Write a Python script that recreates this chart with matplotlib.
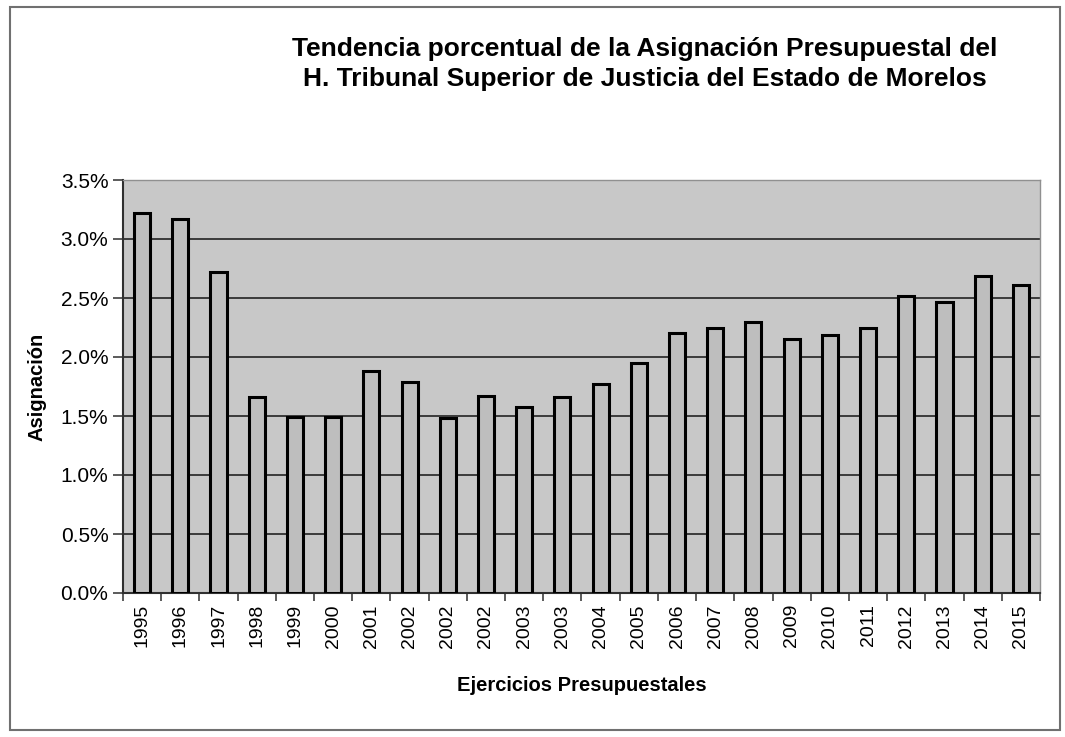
import matplotlib
matplotlib.use("Agg")
import matplotlib.pyplot as plt
import numpy as np
from matplotlib.ticker import FuncFormatter, FixedLocator
from matplotlib.patches import Rectangle

plt.rcParams['font.family'] = ['Liberation Sans', 'DejaVu Sans']

years = ["1995", "1996", "1997", "1998", "1999", "2000", "2001", "2002",
         "2002", "2002", "2003", "2003", "2004", "2005", "2006", "2007",
         "2008", "2009", "2010", "2011", "2012", "2013", "2014", "2015"]
asignacion = [3.22, 3.17, 2.72, 1.66, 1.49, 1.49, 1.88, 1.79,
              1.48, 1.67, 1.58, 1.66, 1.77, 1.95, 2.20, 2.25,
              2.30, 2.15, 2.19, 2.25, 2.52, 2.47, 2.69, 2.61]
title = "Tendencia porcentual de la Asignación Presupuestal del\nH. Tribunal Superior de Justicia del Estado de Morelos"

fig = plt.figure(figsize=(10.65, 7.37), dpi=100)
fig.patch.set_facecolor('white')
fig.patches.append(Rectangle((10/1065, 7/737), 1050/1065, 723/737, transform=fig.transFigure,
                             fill=False, edgecolor='#707070', linewidth=1.5))

ax = fig.add_axes([123/1065, 1 - 593/737, (1040 - 123)/1065, (593 - 180)/737])
ax.set_facecolor('#c8c8c8')
x = np.arange(len(years))
ax.bar(x, asignacion, width=0.42, color='#bebebe', edgecolor='black', linewidth=2.2, zorder=3)

ax.set_xlim(-0.5, len(years) - 0.5)
ax.set_ylim(0, 3.5)
ax.set_yticks(np.arange(0, 3.51, 0.5))
ax.yaxis.set_major_formatter(FuncFormatter(lambda v, p: f"{v:.1f}%"))
ax.grid(axis='y', color='#303030', linewidth=1.3, zorder=1)
ax.set_axisbelow(True)

ax.set_xticks(x)
ax.set_xticklabels(years, rotation=90, fontsize=14)
ax.xaxis.set_minor_locator(FixedLocator(np.arange(-0.5, len(years), 1)))
ax.tick_params(axis='x', which='major', length=0, pad=8)
ax.tick_params(axis='x', which='minor', length=6, width=1.2, direction='out', color='#404040')
ax.tick_params(axis='y', labelsize=15, length=7, width=1.2, direction='out', color='#404040')

for s in ['top', 'right']:
    ax.spines[s].set_color('#909090')
    ax.spines[s].set_linewidth(1)
for s in ['left', 'bottom']:
    ax.spines[s].set_color('#303030')
    ax.spines[s].set_linewidth(1.5)

ax.set_xlabel("Ejercicios Presupuestales", fontsize=14.5, fontweight='bold', labelpad=20)
ax.set_ylabel("Asignación", fontsize=14.5, fontweight='bold', labelpad=10)

fig.text(645/1065, 1 - 64/737, title, ha='center', va='center', fontsize=19,
         fontweight='bold', linespacing=1.3)

fig.savefig("out.png", dpi=100)
